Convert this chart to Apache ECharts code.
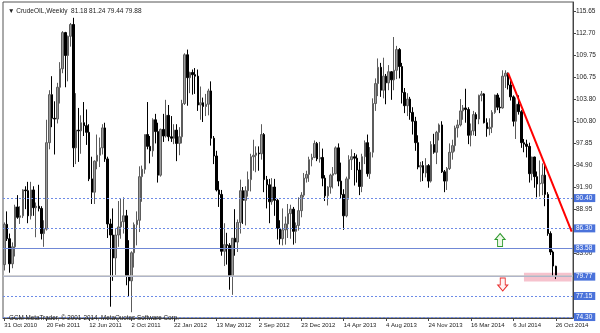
<!DOCTYPE html>
<html><head><meta charset="utf-8">
<script src="https://cdn.jsdelivr.net/npm/echarts@6/dist/echarts.min.js"></script>
<style>html,body{margin:0;padding:0;background:#fff}#c{width:600px;height:333px}</style>
</head><body><div id="c"></div>
<script>
const symbolName = 'CrudeOIL';
const periodName = 'Weekly';
const firstWeek = '2010-10-31';
const padWeeks = 6;
const labelEvery = 16;
const monthNames = ['Jan','Feb','Mar','Apr','May','Jun','Jul','Aug','Sep','Oct','Nov','Dec'];

const opens = [81.40,86.85,84.90,81.50,83.80,89.20,87.80,88.00,91.50,91.40,88.00,91.50,89.10,89.30,89.00,85.60,
86.20,97.90,104.40,101.20,101.10,105.40,107.90,112.80,109.70,112.30,113.90,97.20,99.60,99.50,100.60,100.20,
99.30,93.00,91.20,95.40,96.20,97.20,99.90,95.70,86.90,85.40,82.30,85.40,86.50,87.20,88.00,79.85,
79.20,83.00,86.80,87.40,93.30,94.30,99.00,97.40,96.80,101.00,99.40,93.50,99.70,98.80,101.60,98.70,
98.50,99.60,97.80,98.70,103.20,109.80,106.70,107.40,107.10,106.90,103.00,103.30,102.80,103.10,104.90,98.50,
96.10,91.50,90.90,83.20,84.10,84.00,79.80,84.96,84.45,87.10,91.40,90.10,91.40,92.90,96.00,96.20,
96.50,96.40,99.00,92.90,92.20,89.90,91.90,90.10,86.30,84.90,86.10,86.90,88.30,88.90,85.90,86.70,
88.70,90.80,93.10,93.60,95.60,95.90,97.80,95.70,95.90,93.10,90.70,91.90,93.50,93.70,97.20,92.70,
90.90,88.00,93.00,95.60,96.00,95.80,94.20,91.97,96.00,97.90,93.70,96.60,103.20,105.90,108.10,105.00,
106.90,106.00,107.50,106.40,107.70,110.50,108.20,104.70,102.90,103.80,102.00,100.80,97.90,94.60,94.80,93.80,
94.80,92.70,97.65,96.60,99.30,100.30,93.96,92.70,94.40,96.60,97.50,99.90,100.30,102.20,102.60,102.40,
98.90,99.50,101.70,101.10,104.30,104.50,100.60,99.80,99.99,102.00,104.35,102.70,102.60,106.90,107.30,105.70,
104.10,100.80,103.10,102.10,97.90,97.70,97.40,93.70,95.96,93.30,92.30,92.40,93.50,90.90,85.60,83.10,
81.18];
const highs = [87.10,88.60,85.60,84.40,89.50,90.80,89.30,91.60,92.00,92.60,92.60,92.00,89.80,92.20,89.30,87.40,
101.00,105.00,106.90,103.50,106.00,108.80,113.00,112.90,112.40,114.10,114.80,104.60,102.60,101.60,103.40,102.40,
100.40,96.00,95.50,99.00,98.60,100.40,100.60,96.00,87.60,89.00,86.20,90.00,90.40,90.50,88.80,84.70,
83.20,87.10,88.60,94.70,94.80,99.00,103.40,98.80,101.20,101.80,100.60,99.80,101.80,103.70,103.00,101.50,
100.40,100.40,100.00,103.70,110.00,110.50,107.50,107.80,108.00,107.80,105.50,104.00,104.50,105.20,106.20,98.80,
96.80,92.70,91.50,87.00,85.70,84.30,85.00,88.90,87.50,92.90,91.90,92.00,94.00,96.40,98.30,97.40,
97.40,100.40,99.20,93.40,93.00,93.10,93.00,90.30,87.40,89.00,87.90,89.60,89.50,89.20,87.10,90.50,
91.20,93.80,94.10,96.00,96.40,98.20,98.00,98.00,97.10,93.50,92.00,93.70,94.60,97.40,97.80,95.20,
91.60,93.30,96.20,97.00,96.50,96.30,95.30,96.40,98.20,99.00,97.30,103.90,106.60,109.30,108.70,109.40,
107.20,108.40,107.60,112.20,111.00,110.70,108.70,105.30,104.60,104.10,102.70,101.40,98.90,95.30,95.40,95.80,
95.00,98.10,99.10,99.50,100.50,100.80,94.20,94.60,97.80,98.30,100.20,101.00,103.80,103.00,105.20,102.70,
100.50,102.20,102.00,104.40,104.90,104.60,101.20,101.20,102.30,104.40,104.60,104.00,107.70,107.70,107.40,106.30,
104.30,104.00,104.30,102.30,98.40,98.30,97.90,96.00,96.00,94.00,95.50,95.10,95.00,91.20,85.90,83.30,
81.24];
const lows = [80.60,84.60,80.30,80.90,82.50,87.60,86.90,87.70,88.90,87.00,87.50,88.00,85.10,88.60,84.80,83.80,
86.00,97.00,100.00,96.30,100.50,103.20,107.30,105.40,106.20,110.90,94.60,95.00,95.30,96.40,98.80,97.60,
92.70,89.60,89.60,94.30,94.60,96.30,95.30,85.00,75.70,79.20,80.00,83.80,84.90,85.60,78.60,77.10,
74.95,81.00,84.00,85.80,89.90,93.70,97.00,95.10,96.00,97.80,92.50,93.30,98.00,98.60,98.10,98.00,
97.70,95.40,96.20,97.80,103.00,102.90,104.60,104.40,104.50,102.20,101.00,100.70,101.50,101.60,97.50,95.00,
91.30,89.20,82.60,81.20,81.40,78.00,77.30,82.60,83.10,85.60,86.90,86.70,90.60,91.30,94.10,93.90,
94.10,95.60,91.20,89.00,87.00,89.50,88.00,84.80,84.10,84.00,84.10,85.00,84.90,84.10,84.30,86.00,
87.80,90.50,92.50,92.60,94.70,95.80,95.40,95.20,92.00,90.00,89.40,91.00,91.70,93.60,92.00,90.40,
86.10,87.80,90.20,94.20,92.10,92.50,90.80,91.20,95.00,93.30,93.00,95.90,102.20,104.20,104.10,103.90,
103.10,105.00,103.70,105.00,106.50,106.60,103.20,101.90,101.50,101.00,99.00,96.80,94.30,92.60,92.70,93.20,
91.80,92.50,96.40,95.00,98.20,93.80,91.20,91.50,94.20,95.60,96.70,98.60,100.10,101.00,100.60,97.70,
97.40,98.90,98.80,100.40,103.50,100.50,98.70,98.90,99.20,101.80,102.30,101.90,102.50,105.30,105.10,103.60,
100.10,98.40,101.70,97.20,96.60,95.90,92.50,92.80,91.80,90.50,90.60,90.80,89.30,85.30,82.70,79.80,
79.44];
const closes = [86.85,84.90,81.50,83.80,89.20,87.80,88.00,91.50,91.40,88.00,91.50,89.10,89.30,89.00,85.60,86.20,
97.90,104.40,101.20,101.10,105.40,107.90,112.80,109.70,112.30,113.90,97.20,99.60,99.50,100.60,100.20,99.30,
93.00,91.20,95.40,96.20,97.20,99.90,95.70,86.90,85.40,82.30,85.40,86.50,87.20,88.00,79.85,79.20,
83.00,86.80,87.40,93.30,94.30,99.00,97.40,96.80,101.00,99.40,93.50,99.70,98.80,101.60,98.70,98.50,
99.60,97.80,98.70,103.20,109.80,106.70,107.40,107.10,106.90,103.00,103.30,102.80,103.10,104.90,98.50,96.10,
91.50,90.90,83.20,84.10,84.00,79.80,84.96,84.45,87.10,91.40,90.10,91.40,92.90,96.00,96.20,96.50,
96.40,99.00,92.90,92.20,89.90,91.90,90.10,86.30,84.90,86.10,86.90,88.30,88.90,85.90,86.70,88.70,
90.80,93.10,93.60,95.60,95.90,97.80,95.70,95.90,93.10,90.70,91.90,93.50,93.70,97.20,92.70,90.90,
88.00,93.00,95.60,96.00,95.80,94.20,91.97,96.00,97.90,93.70,96.60,103.20,105.90,108.10,105.00,106.90,
106.00,107.50,106.40,107.70,110.50,108.20,104.70,102.90,103.80,102.00,100.80,97.90,94.60,94.80,93.80,94.80,
92.70,97.65,96.60,99.30,100.30,93.96,92.70,94.40,96.60,97.50,99.90,100.30,102.20,102.60,102.40,98.90,
99.50,101.70,101.10,104.30,104.50,100.60,99.80,99.99,102.00,104.35,102.70,102.60,106.90,107.30,105.70,104.10,
100.80,103.10,102.10,97.90,97.70,97.40,93.70,95.96,93.30,92.30,92.40,93.50,90.90,85.60,83.10,81.20,
79.88];

const priceTicks = [115.65,112.70,109.75,106.75,103.80,100.80,97.85,94.90,91.90,88.95,83.00];
const dashedLevels = [90.40, 86.30, 77.15, 74.30];
const solidLevels = [83.58, 79.77];
const trendStart = [190, 107.35];
const trendEnd = [214, 85.85];
const zoneX = [196, 214];
const zoneY = [80.30, 79.10];
const upArrowAt = [187, 84.73];
const downArrowAt = [188, 78.71];
const copyrightText = 'GCM MetaTrader, \u00a9 2001-2014, MetaQuotes Software Corp.';

// categories: weekly dates
const categories = [];
const d0 = new Date(firstWeek + 'T00:00:00Z');
for (let i = 0; i < opens.length + padWeeks; i++) {
  const d = new Date(d0.getTime() + i * 7 * 86400000);
  categories.push(d.getUTCDate() + ' ' + monthNames[d.getUTCMonth()] + ' ' + d.getUTCFullYear());
}
const candles = opens.map((o, i) => [o, closes[i], lows[i], highs[i]]);
const n = opens.length - 1;
const header = '\u25BC ' + symbolName + ',' + periodName + '  ' +
  [opens[n], highs[n], lows[n], closes[n]].map(v => v.toFixed(2)).join(' ');

const FONT = 'Liberation Sans, DejaVu Sans, sans-serif';
const boxLabel = {
  show: true, position: 'end', distance: 1,
  formatter: p => Number(p.value).toFixed(2),
  color: '#fff', backgroundColor: '#4a72da', padding: [1, 3, 0, 2],
  fontSize: 6.5, fontFamily: FONT
};
const lineData = [];
dashedLevels.forEach(v => lineData.push({ yAxis: v, lineStyle: { color: '#6d8be6', type: [2, 2], width: 1 }, label: boxLabel }));
solidLevels.forEach(v => lineData.push({ yAxis: v, lineStyle: { color: '#7088d6', type: 'solid', width: 1 }, label: boxLabel }));
lineData.push({ yAxis: closes[n], lineStyle: { color: '#c4c4c4', type: 'solid', width: 1.5 }, label: { show: false } });
lineData.push([
  { coord: trendStart, lineStyle: { color: '#ff0000', width: 2, type: 'solid' }, label: { show: false } },
  { coord: trendEnd }
]);

const chart = echarts.init(document.getElementById('c'), null, { renderer: 'canvas' });
chart.setOption({
  animation: false,
  backgroundColor: '#ffffff',
  textStyle: { fontFamily: FONT },
  title: [
    { text: header, left: 3, top: 3, textStyle: { fontSize: 6.5, fontWeight: 'normal', color: '#222', fontFamily: FONT } },
    { text: copyrightText, left: 4, top: 310, textStyle: { fontSize: 6.3, fontWeight: 'normal', color: '#222', fontFamily: FONT } }
  ],
  grid: { left: 3, right: 27, top: 2, bottom: 15, show: true, borderColor: '#555', borderWidth: 1, backgroundColor: '#fff' },
  xAxis: {
    type: 'category', data: categories, boundaryGap: true,
    axisLine: { show: true, lineStyle: { color: '#444' } },
    axisTick: { show: true, alignWithLabel: true, length: 3, interval: (i) => i % labelEvery === 0 && i < opens.length, lineStyle: { color: '#444' } },
    axisLabel: { interval: (i) => i % labelEvery === 0 && i < opens.length, align: 'left', margin: 4, fontSize: 6, color: '#222', fontFamily: FONT, hideOverlap: false },
    splitLine: { show: false }
  },
  yAxis: {
    type: 'value', position: 'right', min: 74.17, max: 116.94, scale: true,
    axisLine: { show: true, lineStyle: { color: '#444' } },
    axisTick: { show: true, length: 3, customValues: priceTicks, lineStyle: { color: '#444' } },
    axisLabel: { customValues: priceTicks, margin: 3, fontSize: 6.5, color: '#222', fontFamily: FONT, formatter: v => Number(v).toFixed(2) },
    splitLine: { show: false }
  },
  series: [{
    type: 'candlestick',
    data: candles,
    barWidth: 2,
    itemStyle: { color: '#9c9c9c', color0: '#000000', borderColor: '#5c5c5c', borderColor0: '#000000', borderWidth: 1 },
    markArea: {
      silent: true,
      itemStyle: { color: '#f6c2cd' },
      data: [[{ xAxis: zoneX[0], yAxis: zoneY[0] }, { xAxis: zoneX[1], yAxis: zoneY[1] }]]
    },
    markLine: {
      silent: true, symbol: ['none', 'none'], animation: false,
      data: lineData
    },
    markPoint: {
      silent: true,
      label: { show: false },
      data: [
        { coord: upArrowAt, symbol: 'path://M5,0 L10,6 L7.5,6 L7.5,13 L2.5,13 L2.5,6 L0,6 Z', symbolSize: [10, 13], itemStyle: { color: '#eef8e8', borderColor: '#2f9a2f', borderWidth: 1 } },
        { coord: downArrowAt, symbol: 'path://M2.5,0 L7.5,0 L7.5,7 L10,7 L5,13 L0,7 L2.5,7 Z', symbolSize: [10, 13], itemStyle: { color: '#fff2f2', borderColor: '#e83030', borderWidth: 1 } }
      ]
    }
  }]
});
</script></body></html>
